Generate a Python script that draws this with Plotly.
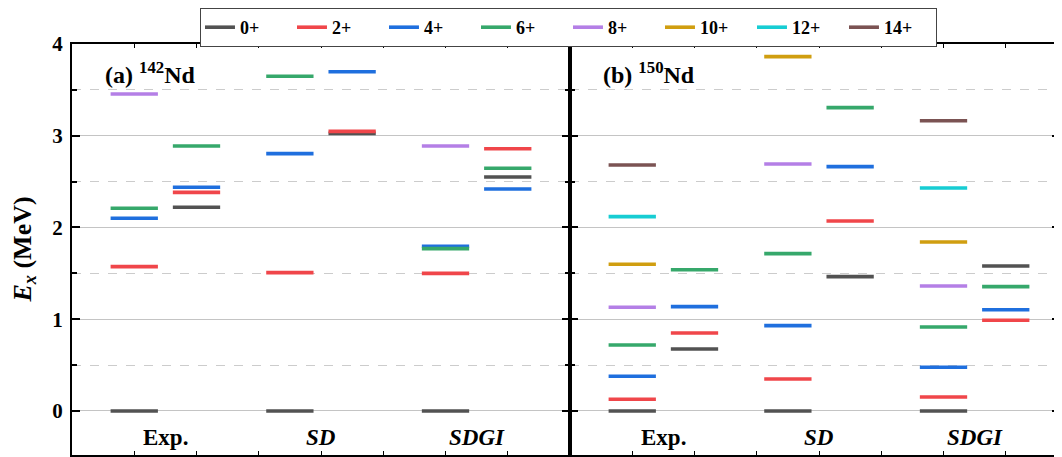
import plotly.graph_objects as go

# ---------------- data ----------------
spins = ["0+", "2+", "4+", "6+", "8+", "10+", "12+", "14+"]
columns = ["Exp. (g)", "Exp. (band 2)", "SD (g)", "SD (band 2)", "SDGI (g)", "SDGI (band 2)"]
group_labels = ["Exp.", "SD", "SDGI"]

# 142Nd excitation energies (MeV) per column, None = not shown
nd142_0 = [0.0, 2.22, 0.0, 3.026, 0.0, 2.55]
nd142_2 = [1.573, 2.383, 1.508, 3.048, 1.50, 2.859]
nd142_4 = [2.10, 2.438, 2.805, 3.698, 1.795, 2.42]
nd142_6 = [2.209, 2.888, 3.648, None, 1.769, 2.645]
nd142_8 = [3.455, None, None, None, 2.888, None]

# 150Nd excitation energies (MeV)
nd150_0 = [0.0, 0.676, 0.0, 1.464, 0.0, 1.58]
nd150_2 = [0.127, 0.85, 0.349, 2.071, 0.153, 0.988]
nd150_4 = [0.378, 1.137, 0.93, 2.663, 0.476, 1.104]
nd150_6 = [0.719, 1.54, 1.715, 3.306, 0.916, 1.355]
nd150_8 = [1.130, None, 2.692, None, 1.362, None]
nd150_10 = [1.599, None, 3.862, None, 1.842, None]
nd150_12 = [2.118, None, None, None, 2.43, None]
nd150_14 = [2.681, None, None, None, 3.164, None]

nd142 = {"0+": nd142_0, "2+": nd142_2, "4+": nd142_4, "6+": nd142_6, "8+": nd142_8}
nd150 = {"0+": nd150_0, "2+": nd150_2, "4+": nd150_4, "6+": nd150_6, "8+": nd150_8,
         "10+": nd150_10, "12+": nd150_12, "14+": nd150_14}

colors = {"0+": "#525252", "2+": "#f0464a", "4+": "#1f6fde", "6+": "#36a86b",
          "8+": "#b47fe6", "10+": "#d09e10", "12+": "#17cdd3", "14+": "#7b5353"}

# ---------------- layout helpers ----------------
col_pos = [1, 2, 3.5, 4.5, 6, 7]
group_pos = [1.5, 4, 6.5]
hw = 0.38
FONT = "Liberation Serif"

fig = go.Figure()

for s in spins:
    shown = False
    for data, xa, ya in ((nd142, "x", "y"), (nd150, "x2", "y2")):
        if s not in data:
            continue
        xs, ys = [], []
        for c, v in zip(col_pos, data[s]):
            if v is None:
                continue
            xs += [c - hw, c + hw, None]
            ys += [v, v, None]
        fig.add_trace(go.Scatter(
            x=xs, y=ys, mode="lines", xaxis=xa, yaxis=ya,
            line=dict(color=colors[s], width=3.6),
            name="<b>" + s + "</b>", legendgroup=s, showlegend=not shown,
            hoverinfo="skip"))
        shown = True

x_common = dict(dtick=1, tick0=0, ticks="inside", ticklen=4, tickcolor="black",
                showticklabels=False, showgrid=False, zeroline=False,
                showline=True, linecolor="black", linewidth=2, mirror="ticks")
y_common = dict(range=[-0.48, 4], dtick=1, tick0=0, ticks="inside", ticklen=8,
                tickwidth=1.5, tickcolor="black", showline=True, linecolor="black",
                linewidth=2, mirror="ticks", zeroline=False,
                showgrid=True, gridcolor="#c4c4c4", gridwidth=1,
                minor=dict(dtick=0.5, ticks="inside", ticklen=5, tickcolor="black",
                           showgrid=True, gridcolor="#cccccc", griddash="dash", gridwidth=1))

# page body has an 8 px margin: shift figure geometry accordingly
split = 498 / 988
fig.update_layout(
    width=1054, height=449,
    margin=dict(l=64, r=2, t=36, b=2, autoexpand=False),
    plot_bgcolor="white", paper_bgcolor="white",
    font=dict(family=FONT, color="black"),
    xaxis=dict(domain=[0, split], range=[0, 8], anchor="y", **x_common),
    xaxis2=dict(domain=[split, 1], range=[0, 490 / 62.25], anchor="y2", **x_common),
    yaxis=dict(anchor="x", tickfont=dict(family=FONT, size=21, color="black", weight="bold"),
               ticklabelstandoff=3, **y_common),
    yaxis2=dict(anchor="x2", showticklabels=False, **y_common),
    legend=dict(orientation="h", x=0.5025, xanchor="center", y=1 + 36 / 411, yanchor="top",
                bgcolor="white", bordercolor="#444", borderwidth=1,
                font=dict(family=FONT, size=18, color="black"),
                entrywidth=47, entrywidthmode="pixels", tracegroupgap=0),
)

ann = []
for xa, label in (("x", "(a) <sup>142</sup>Nd"), ("x2", "(b) <sup>150</sup>Nd")):
    ann.append(dict(x=0.5, y=3.68, xref=xa, yref="y", text="<b>" + label + "</b>",
                    showarrow=False, xanchor="left", yanchor="middle",
                    font=dict(family=FONT, size=24, color="black")))
    for gx, gl in zip(group_pos, group_labels):
        txt = "<b>" + gl + "</b>" if gl == "Exp." else "<b><i>" + gl + "</i></b>"
        ann.append(dict(x=gx, y=-0.29, xref=xa, yref="y", text=txt, showarrow=False,
                        xanchor="center", yanchor="middle",
                        font=dict(family=FONT, size=23, color="black")))
ann.append(dict(x=-49 / 988, y=0.5, xref="paper", yref="paper", textangle=-90,
                text="<b><i>E</i><sub><i>x</i></sub> (MeV)</b>", showarrow=False,
                xanchor="center", yanchor="middle",
                font=dict(family=FONT, size=26, color="black")))
fig.update_layout(annotations=ann)

fig.write_html("out.html")
